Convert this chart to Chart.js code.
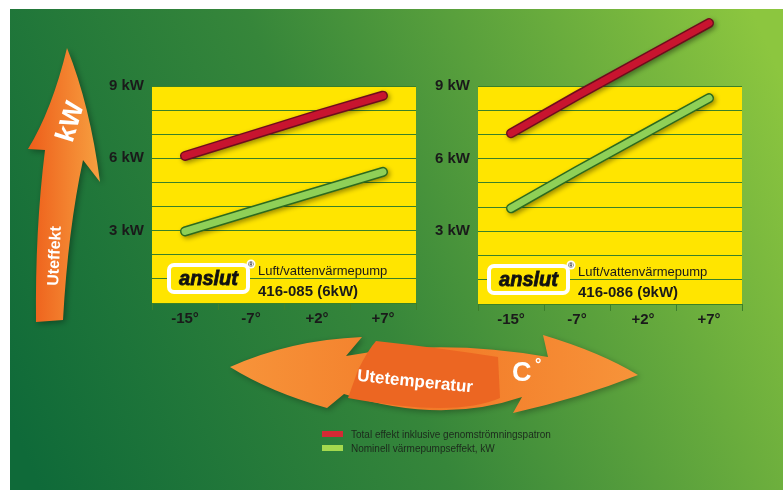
<!DOCTYPE html>
<html>
<head>
<meta charset="utf-8">
<script src="https://cdn.jsdelivr.net/npm/chart.js@4.4.1/dist/chart.umd.min.js"></script>
<style>
body{margin:0;background:#fff;}
#wrap{position:relative;width:783px;height:490px;overflow:hidden;}
#bg{position:absolute;left:0;top:0;}
.box{position:absolute;top:10px;width:350px;height:330px;}
#legend{position:absolute;left:322px;top:429px;font:10px 'Liberation Sans',Arial,sans-serif;color:#1c2a1c;}
#legend div{height:14px;line-height:12px;white-space:nowrap;}
#legend span{display:inline-block;width:21px;height:6px;margin-right:8px;vertical-align:1px;}
</style>
</head>
<body>
<div id="wrap">
  <canvas id="bg" width="783" height="490"></canvas>
  <div class="box" style="left:80px"><canvas id="c6" width="350" height="330"></canvas></div>
  <div class="box" style="left:410px"><canvas id="c9" width="350" height="330"></canvas></div>
  <div id="legend"></div>
</div>
<script>
// data
var temps = ['-15°', '-7°', '+2°', '+7°'];
var kwTicks = [3, 6, 9];
var seriesNames = ['Total effekt inklusive genomströmningspatron', 'Nominell värmepumpseffekt, kW'];
var total6 = [6.1, 6.95, 7.8, 8.6];
var nominal6 = [2.97, 3.8, 4.62, 5.44];
var total9 = [7.05, 8.6, 10.1, 11.6];
var nominal9 = [3.95, 5.5, 7.0, 8.5];
var product = 'Luft/vattenvärmepump';
var model6 = '416-085 (6kW)';
var model9 = '416-086 (9kW)';

var FONT = "'Liberation Sans', Arial, sans-serif";
Chart.defaults.font.family = FONT;

var redOut = '#6e0d1c', redIn = '#c8142f';
var grnOut = '#2c6a1e', grnIn = '#8fd057';

// background + arrows
function drawBackground() {
  var c = document.getElementById('bg').getContext('2d');
  var g = c.createLinearGradient(10, 420, 783, 80);
  g.addColorStop(0, '#0f6a39');
  g.addColorStop(0.45, '#36863a');
  g.addColorStop(1, '#8cc63f');
  c.fillStyle = g;
  c.fillRect(10, 9, 773, 481);

  // vertical arrow
  c.save();
  c.shadowColor = 'rgba(0,0,0,0.35)';
  c.shadowBlur = 6; c.shadowOffsetX = 2; c.shadowOffsetY = 2;
  var og = c.createLinearGradient(30, 0, 100, 0);
  og.addColorStop(0, '#ee5f1b');
  og.addColorStop(1, '#f7a040');
  c.fillStyle = og;
  c.beginPath();
  c.moveTo(67, 48);
  c.quadraticCurveTo(90, 105, 100, 182);
  c.lineTo(83, 160);
  c.quadraticCurveTo(68, 230, 63, 320);
  c.lineTo(36, 322);
  c.quadraticCurveTo(35, 230, 45, 150);
  c.lineTo(28, 149);
  c.quadraticCurveTo(52, 110, 67, 48);
  c.closePath();
  c.fill();
  c.restore();

  c.fillStyle = '#fff';
  c.save();
  c.translate(55, 256); c.rotate(-Math.PI / 2 + 0.05);
  c.font = 'bold 16px ' + FONT; c.textAlign = 'center'; c.textBaseline = 'middle';
  c.fillText('Uteffekt', 0, 0);
  c.restore();
  c.save();
  c.translate(71, 122); c.rotate(-Math.PI / 2 + 0.3);
  c.font = 'bold 27px ' + FONT; c.textAlign = 'center'; c.textBaseline = 'middle';
  c.fillText('kW', 0, 0);
  c.restore();

  // horizontal double arrow
  c.save();
  c.shadowColor = 'rgba(0,0,0,0.3)';
  c.shadowBlur = 6; c.shadowOffsetX = 2; c.shadowOffsetY = 2;
  var hg = c.createLinearGradient(230, 0, 640, 0);
  hg.addColorStop(0, '#f7943a');
  hg.addColorStop(0.5, '#f27a28');
  hg.addColorStop(1, '#f7943a');
  c.fillStyle = hg;
  c.beginPath();
  c.moveTo(230, 367);
  c.quadraticCurveTo(290, 340, 362, 337);
  c.lineTo(346, 356);
  c.quadraticCurveTo(440, 338, 548, 357);
  c.lineTo(543, 335);
  c.quadraticCurveTo(600, 352, 638, 375);
  c.quadraticCurveTo(580, 398, 513, 413);
  c.lineTo(522, 397);
  c.quadraticCurveTo(440, 425, 344, 394);
  c.lineTo(327, 408);
  c.quadraticCurveTo(270, 392, 230, 367);
  c.closePath();
  c.fill();
  c.restore();

  // darker ribbon behind the label
  c.fillStyle = '#ec6622';
  c.beginPath();
  c.moveTo(376, 341);
  c.quadraticCurveTo(440, 348, 498, 357);
  c.lineTo(500, 398);
  c.quadraticCurveTo(455, 418, 348, 398);
  c.lineTo(358, 370);
  c.quadraticCurveTo(368, 350, 376, 341);
  c.closePath();
  c.fill();

  c.fillStyle = '#fff';
  c.save();
  c.translate(415, 382); c.rotate(0.1);
  c.font = 'bold 17px ' + FONT; c.textAlign = 'center'; c.textBaseline = 'middle';
  c.fillText('Utetemperatur', 0, 0);
  c.restore();
  c.font = 'bold 27px ' + FONT; c.textBaseline = 'middle'; c.textAlign = 'left';
  c.fillText('C', 512, 374);
  c.font = 'bold 16px ' + FONT;
  c.fillText('°', 535, 366);
}
drawBackground();

// legend
var leg = document.getElementById('legend');
[[seriesNames[0], '#d42a34'], [seriesNames[1], '#a4d94e']].forEach(function (it) {
  var d = document.createElement('div');
  d.innerHTML = '<span style="background:' + it[1] + '"></span>' + it[0];
  leg.appendChild(d);
});

// yellow plot, logo, shadows
var panelPlugin = {
  id: 'panel',
  beforeDraw: function (chart) {
    var a = chart.chartArea, c = chart.ctx;
    c.save();
    c.fillStyle = '#ffe500';
    c.fillRect(a.left, a.top, a.right - a.left, a.bottom - a.top);
    c.restore();
  },
  beforeDatasetDraw: function (chart, args) {
    if (args.meta._dataset.outline) {
      chart.ctx.save();
      chart.ctx.shadowColor = 'rgba(0,0,0,0.4)';
      chart.ctx.shadowBlur = 5;
      chart.ctx.shadowOffsetX = 2;
      chart.ctx.shadowOffsetY = 2;
    }
  },
  afterDatasetDraw: function (chart, args) {
    if (args.meta._dataset.outline) chart.ctx.restore();
  },
  afterDraw: function (chart, args, opts) {
    var c = chart.ctx, a = chart.chartArea;
    var x0 = opts.logoX, y0 = a.bottom - 40, w = 83, h = 31;
    c.save();
    c.fillStyle = '#fff';
    c.beginPath(); c.roundRect(x0, y0, w, h, 7); c.fill();
    c.fillStyle = '#ffe500';
    c.beginPath(); c.roundRect(x0 + 4, y0 + 4, w - 8, h - 8, 3); c.fill();
    c.fillStyle = '#111';
    c.strokeStyle = '#111';
    c.lineWidth = 0.8;
    c.font = 'italic bold 20px ' + FONT;
    c.textAlign = 'center'; c.textBaseline = 'middle';
    c.fillText('anslut', x0 + w / 2, y0 + h / 2 + 1);
    c.strokeText('anslut', x0 + w / 2, y0 + h / 2 + 1);
    c.fillStyle = '#fff';
    c.beginPath(); c.arc(x0 + w + 1, y0 + 1, 4.5, 0, Math.PI * 2); c.fill();
    c.fillStyle = '#333';
    c.font = 'bold 8px ' + FONT;
    c.fillText('®', x0 + w + 1, y0 + 1.5);
    c.textAlign = 'left'; c.textBaseline = 'alphabetic';
    c.fillStyle = '#1a1a1a';
    c.font = '13px ' + FONT;
    c.fillText(product, opts.textX, y0 + 12);
    c.font = 'bold 15px ' + FONT;
    c.fillText(opts.model, opts.textX, y0 + 33);
    c.restore();
  }
};

function line(data, color, width, outline, order) {
  return {
    label: '', data: data, borderColor: color, borderWidth: width,
    pointRadius: 0, tension: 0, fill: false, clip: false,
    borderCapStyle: 'round', borderJoinStyle: 'round',
    outline: outline, order: order
  };
}

function makeChart(id, totals, nominals, model, yw, padRight, xh, logoX, textX) {
  return new Chart(document.getElementById(id), {
    type: 'line',
    data: {
      labels: temps,
      datasets: [
        line(totals, redIn, 7, false, 1),
        line(totals, redOut, 10, true, 2),
        line(nominals, grnIn, 7, false, 1),
        line(nominals, grnOut, 10, true, 2)
      ]
    },
    options: {
      responsive: false,
      animation: false,
      layout: { padding: { top: 76, right: padRight, left: 0, bottom: 0 } },
      plugins: {
        legend: { display: false },
        tooltip: { enabled: false },
        panel: { logoX: logoX, textX: textX, model: model }
      },
      scales: {
        x: {
          offset: true,
          grid: { offset: true, drawOnChartArea: false, color: '#3d7f2b', tickLength: 7 },
          border: { display: false },
          ticks: { color: '#1a1a1a', font: { size: 15, weight: 'bold' }, padding: 0 },
          afterFit: function (s) { s.height = xh; }
        },
        y: {
          min: 0, max: 9,
          grid: { color: '#3a8029', lineWidth: 1, drawTicks: false },
          border: { display: false },
          ticks: {
            stepSize: 1, padding: 8, color: '#1a1a1a', font: { size: 15, weight: 'bold' },
            callback: function (v) { return kwTicks.indexOf(v) >= 0 ? v + ' kW' : ''; }
          },
          afterFit: function (s) { s.width = yw; }
        }
      }
    },
    plugins: [panelPlugin]
  });
}

// logo/text positions are relative to each chart canvas
makeChart('c6', total6, nominal6, model6, 72, 14, 37, 87, 178);
makeChart('c9', total9, nominal9, model9, 68, 18, 36, 77, 168);
</script>
</body>
</html>
